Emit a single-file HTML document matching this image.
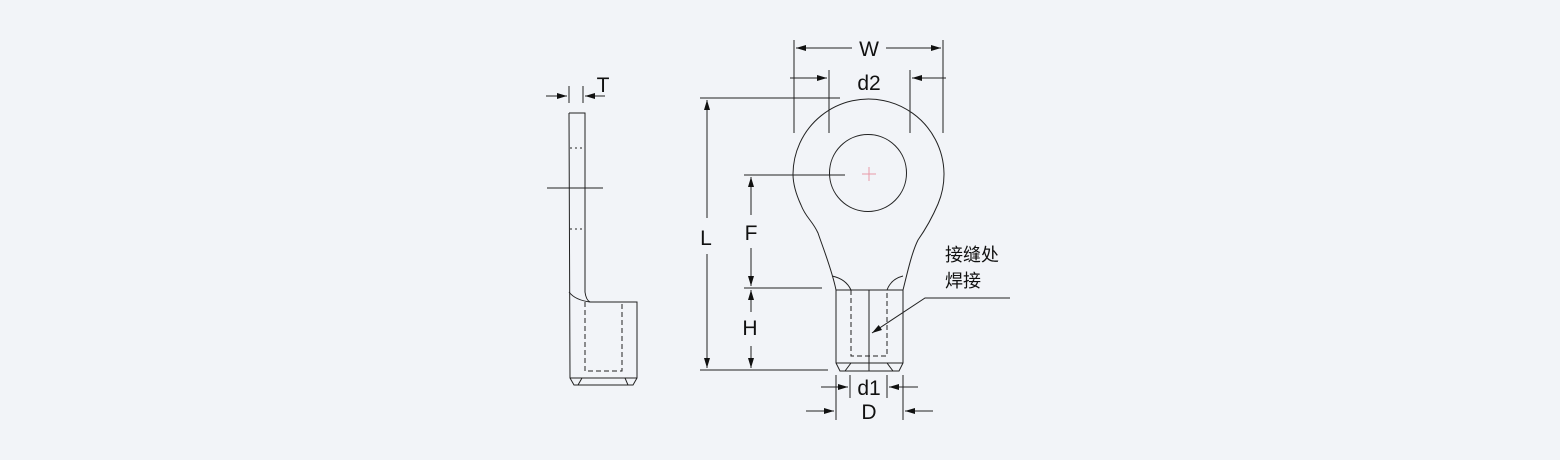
<!DOCTYPE html><html><head><style>html,body{margin:0;padding:0;background:#f2f4f8}svg{display:block}text{font-family:"Liberation Sans","Noto Sans CJK SC",sans-serif;fill:#111}</style></head><body>
<svg width="1560" height="460" viewBox="0 0 1560 460" xmlns="http://www.w3.org/2000/svg">
<defs><marker id="a" viewBox="0 0 10 6" refX="10" refY="3" markerWidth="13" markerHeight="6" markerUnits="userSpaceOnUse" orient="auto"><path d="M0,0L10,3L0,6z" fill="#111"/></marker></defs>
<g fill="none" stroke="#222" stroke-width="1">
<path d="M569,113H585V292Q586,300 590,302H637V378L633,385H574L570,378L569,113"/>
<path d="M569,292Q575,300 590,302"/>
<path d="M570,378H637M578,385L582,378M628,385L625,378"/>
<path d="M585,302V371H622V302" stroke-dasharray="5,3"/>
<path d="M570,148H583M570,229H583" stroke-dasharray="2,3"/>
<path d="M547,188H603"/>
<path d="M569,86V103M583,86V103"/>
<path d="M546,96H567" marker-end="url(#a)"/><path d="M605,96H585" marker-end="url(#a)"/>
<path d="M836,290C832,270 822,245 818,233C812,220 806,218 801,205C795,192 793,183 793,174A75.5,75.5 0 1 1 938,204C932,218 925,230 918,240C912,252 908,270 903,290"/>
<circle cx="868" cy="173" r="38.5"/>
<path d="M862,174H876M869,167V181" stroke="#e89aa8"/>
<path d="M836,290H903V363L899,371H840L836,363Z"/>
<path d="M836,363H903M869,290V371M845,371L851,363M893,371L887,363"/>
<path d="M832,276Q846,279 851,290M903,276Q891,279 887,290"/>
<path d="M851,290V356H887V290" stroke-dasharray="5,3"/>
<path d="M794,40V133M943,40V133M829,70V133M910,70V133"/>
<path d="M852,48H796" marker-end="url(#a)"/><path d="M886,48H941" marker-end="url(#a)"/>
<path d="M790,78H827" marker-end="url(#a)"/><path d="M946,78H912" marker-end="url(#a)"/>
<path d="M700,98H840M700,370H828M744,175H845M744,288H822"/>
<path d="M707,218V100" marker-end="url(#a)"/><path d="M707,254V368" marker-end="url(#a)"/>
<path d="M751,215V177" marker-end="url(#a)"/><path d="M751,248V286" marker-end="url(#a)"/>
<path d="M751,312V290" marker-end="url(#a)"/><path d="M751,346V368" marker-end="url(#a)"/>
<path d="M836,375V420M850,375V398M887,375V398M903,375V420"/>
<path d="M821,387H848" marker-end="url(#a)"/><path d="M918,387H889" marker-end="url(#a)"/>
<path d="M806,411H834" marker-end="url(#a)"/><path d="M933,411H905" marker-end="url(#a)"/>
<path d="M1010,298H925L872,333" marker-end="url(#a)"/>
</g>
<g font-size="21" text-anchor="middle">
<text x="869" y="56">W</text><text x="869" y="90">d2</text>
<text x="603" y="92">T</text>
<text x="706" y="245">L</text><text x="751" y="240">F</text><text x="750" y="335">H</text>
<text x="869" y="395">d1</text><text x="869" y="419">D</text>
</g>
<g font-size="18"><text x="945" y="261">接缝处</text><text x="945" y="287">焊接</text></g>
</svg></body></html>
